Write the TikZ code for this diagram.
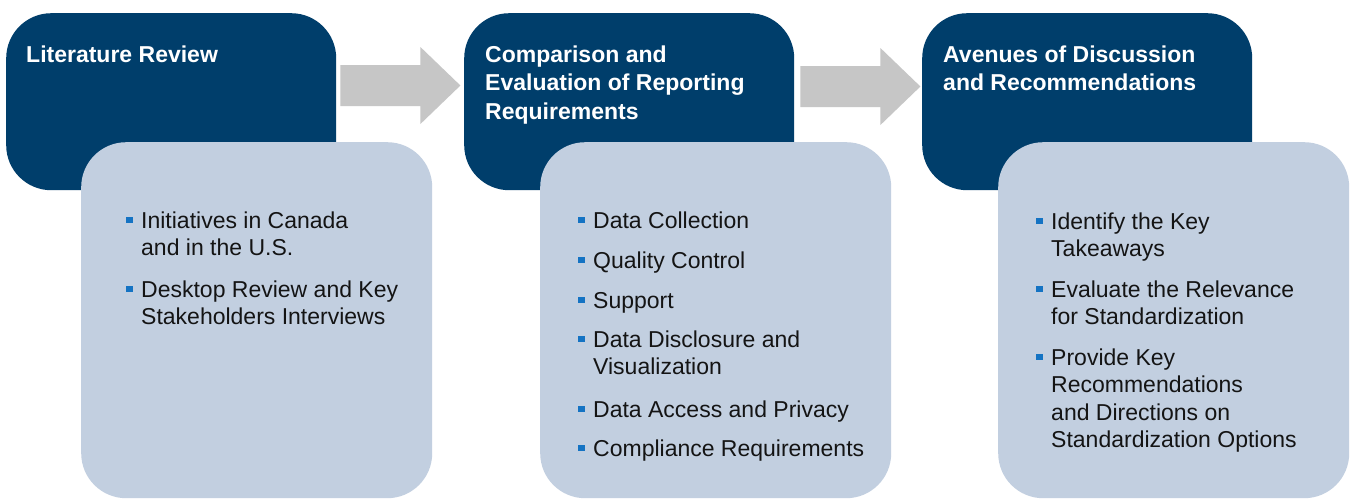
\documentclass[tikz,border=0pt]{standalone}
\usepackage{fontspec}
\setmainfont{Liberation Sans}
\usetikzlibrary{calc}
\definecolor{navy}{RGB}{0,62,107}
\definecolor{pale}{RGB}{194,207,224}
\definecolor{arrowgray}{RGB}{198,198,198}
\definecolor{bulletblue}{RGB}{20,115,195}
\definecolor{bodytext}{RGB}{20,20,20}
\tikzset{
  darkbox/.style={fill=navy, draw=none, rounded corners=45pt, minimum width=330pt, minimum height=177pt, anchor=north west, inner sep=0pt},
  palebox/.style={fill=pale, draw=none, rounded corners=45pt, minimum width=351pt, minimum height=356pt, anchor=north west, inner sep=0pt},
  titletext/.style={text=white, font=\fontsize{23}{28.5}\selectfont\bfseries, align=left, anchor=north west, inner sep=0pt},
  itemtext/.style={text=bodytext, font=\fontsize{23}{27.5}\selectfont, align=left, anchor=north west, inner sep=0pt},
  bulletsq/.style={fill=bulletblue, draw=none, minimum size=6.5pt, inner sep=0pt},
  blockarrow/.style={fill=arrowgray, draw=none},
}
\newcommand{\bulletfor}[2]{\node[bulletsq] (#2) at ($(#1.north west)+(-11.5,11.3)$) {};}
\begin{document}
\begin{tikzpicture}[x=1pt,y=-1pt]
\useasboundingbox (0,0) rectangle (1351,499);
\fill[white] (0,0) rectangle (1351,499);

% dark header boxes
\node[darkbox] (d1) at (6,13) {};
\node[darkbox] (d2) at (464,13) {};
\node[darkbox] (d3) at (922,13) {};

% block arrows between headers
\coordinate (a1s) at ($(d1.north east)+(4,72.5)$);
\coordinate (a2s) at ($(d2.north east)+(6,73.5)$);
\fill[blockarrow] (a1s) ++(0,-20.5) -- ++(80,0) -- ++(0,-18) -- ++(40,38.5) -- ++(-40,38.5) -- ++(0,-18) -- ++(-80,0) -- cycle;
\fill[blockarrow] (a2s) ++(0,-20.5) -- ++(80,0) -- ++(0,-18) -- ++(40,38.5) -- ++(-40,38.5) -- ++(0,-18) -- ++(-80,0) -- cycle;

% pale content boxes
\node[palebox] (p1) at (81,142) {};
\node[palebox] (p2) at (540,142) {};
\node[palebox] (p3) at (998,142) {};

% titles
\node[titletext] (t1) at (26,42) {\strut Literature Review};
\node[titletext] (t2) at (485,42) {\strut Comparison and\\Evaluation of Reporting\\Requirements};
\node[titletext] (t3) at (943,42) {\strut Avenues of Discussion\\and Recommendations};

% column 1 items
\node[itemtext] (i11) at (141,208.9) {\strut Initiatives in Canada\\and in the U.S.};
\node[itemtext] (i12) at (141,277.9) {\strut Desktop Review and Key\\Stakeholders Interviews};
\bulletfor{i11}{b11}
\bulletfor{i12}{b12}

% column 2 items
\node[itemtext] (i21) at (593,208.9) {\strut Data Collection};
\node[itemtext] (i22) at (593,248.9) {\strut Quality Control};
\node[itemtext] (i23) at (593,288.9) {\strut Support};
\node[itemtext] (i24) at (593,327.9) {\strut Data Disclosure and\\Visualization};
\node[itemtext] (i25) at (593,397.9) {\strut Data Access and Privacy};
\node[itemtext] (i26) at (593,436.9) {\strut Compliance Requirements};
\bulletfor{i21}{b21}
\bulletfor{i22}{b22}
\bulletfor{i23}{b23}
\bulletfor{i24}{b24}
\bulletfor{i25}{b25}
\bulletfor{i26}{b26}

% column 3 items
\node[itemtext] (i31) at (1051,209.9) {\strut Identify the Key\\Takeaways};
\node[itemtext] (i32) at (1051,277.9) {\strut Evaluate the Relevance\\for Standardization};
\node[itemtext] (i33) at (1051,345.9) {\strut Provide Key\\Recommendations\\and Directions on\\Standardization Options};
\bulletfor{i31}{b31}
\bulletfor{i32}{b32}
\bulletfor{i33}{b33}
\end{tikzpicture}
\end{document}
